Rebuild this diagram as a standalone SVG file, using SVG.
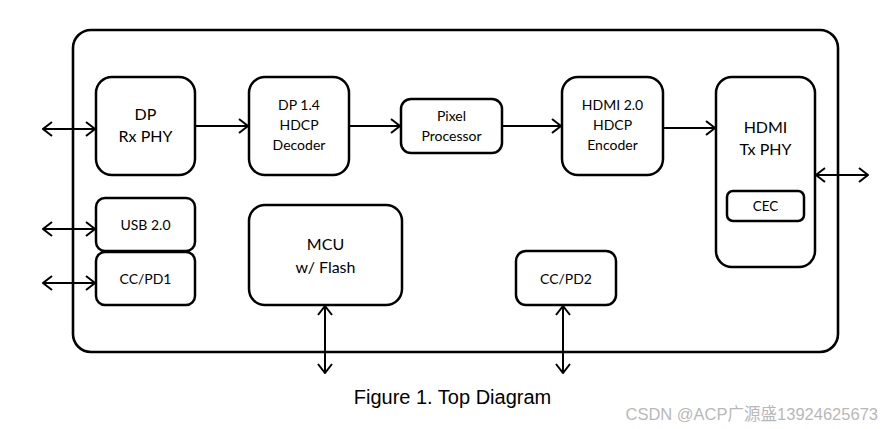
<svg xmlns="http://www.w3.org/2000/svg" width="882" height="429" viewBox="0 0 882 429">
<defs>
<style>
.box{fill:#fff;stroke:#000;stroke-width:2.5}
.outer{fill:none;stroke:#000;stroke-width:2.6}
.ln{fill:none;stroke:#000;stroke-width:2}
.t{font-family:Lato,"Open Sans",sans-serif;fill:#000;text-anchor:middle}
.l{font-size:16px}
.s{font-size:14px}
</style>
<marker id="ah" viewBox="0 0 11 16" refX="10" refY="8" markerWidth="11" markerHeight="16" markerUnits="userSpaceOnUse" orient="auto-start-reverse">
<path d="M1,1 L10,8 L1,15" fill="none" stroke="#000" stroke-width="2"/>
</marker>
</defs>
<rect id="chip" class="outer" x="73" y="30" width="765" height="322" rx="18"/>
<g id="connectors">
<line class="ln" x1="43" y1="129" x2="95" y2="129" marker-start="url(#ah)" marker-end="url(#ah)"/>
<line class="ln" x1="195" y1="126" x2="248" y2="126" marker-end="url(#ah)"/>
<line class="ln" x1="349" y1="126" x2="400" y2="126" marker-end="url(#ah)"/>
<line class="ln" x1="502" y1="126" x2="561" y2="126" marker-end="url(#ah)"/>
<line class="ln" x1="663" y1="128" x2="715" y2="128" marker-end="url(#ah)"/>
<line class="ln" x1="816" y1="175" x2="868" y2="175" marker-start="url(#ah)" marker-end="url(#ah)"/>
<line class="ln" x1="43" y1="229" x2="95" y2="229" marker-start="url(#ah)" marker-end="url(#ah)"/>
<line class="ln" x1="43" y1="283" x2="95" y2="283" marker-start="url(#ah)" marker-end="url(#ah)"/>
<line class="ln" x1="325" y1="306" x2="325" y2="373" marker-start="url(#ah)" marker-end="url(#ah)"/>
<line class="ln" x1="563" y1="306" x2="563" y2="373" marker-start="url(#ah)" marker-end="url(#ah)"/>
</g>
<g id="dp-rx">
<rect class="box" x="96" y="77" width="99" height="98" rx="16"/>
<text class="t l" x="145.5" y="120">DP</text>
<text class="t l" x="145.5" y="142">Rx PHY</text>
</g>
<g id="dp-hdcp">
<rect class="box" x="249" y="77" width="100" height="98" rx="16"/>
<text class="t s" x="299" y="110">DP 1.4</text>
<text class="t s" x="299" y="130">HDCP</text>
<text class="t s" x="299" y="150">Decoder</text>
</g>
<g id="pixel">
<rect class="box" x="401" y="99" width="101" height="54" rx="10"/>
<text class="t s" x="451.5" y="121">Pixel</text>
<text class="t s" x="451.5" y="141">Processor</text>
</g>
<g id="hdmi-hdcp">
<rect class="box" x="562" y="77" width="101" height="98" rx="16"/>
<text class="t s" x="612.5" y="110">HDMI 2.0</text>
<text class="t s" x="612.5" y="130">HDCP</text>
<text class="t s" x="612.5" y="150">Encoder</text>
</g>
<g id="hdmi-tx">
<rect class="box" x="716" y="77" width="99" height="190" rx="16"/>
<text class="t l" x="765.5" y="133">HDMI</text>
<text class="t l" x="765.5" y="155">Tx PHY</text>
</g>
<g id="cec">
<rect class="box" x="727" y="191" width="77" height="30" rx="6"/>
<text class="t" style="font-size:13.5px" x="765.5" y="211">CEC</text>
</g>
<g id="usb">
<rect class="box" x="96" y="198" width="99" height="53" rx="9"/>
<text class="t s" x="145.5" y="230">USB 2.0</text>
</g>
<g id="ccpd1">
<rect class="box" x="96" y="252" width="99" height="53" rx="9"/>
<text class="t s" x="145.5" y="284">CC/PD1</text>
</g>
<g id="mcu">
<rect class="box" x="249" y="205" width="153" height="100" rx="16"/>
<text class="t l" x="325.5" y="250">MCU</text>
<text class="t l" x="325.5" y="273">w/ Flash</text>
</g>
<g id="ccpd2">
<rect class="box" x="516" y="251" width="100" height="54" rx="10"/>
<text class="t s" x="566" y="284">CC/PD2</text>
</g>
<text x="452.5" y="404" style="font-family:'Liberation Sans',Arial,sans-serif;font-size:20px;text-anchor:middle;fill:#000">Figure 1. Top Diagram</text>
<text x="878" y="420" style="font-family:'Liberation Sans','Noto Sans CJK SC',sans-serif;font-size:16.5px;text-anchor:end;fill:#b8b8b8">CSDN @ACP广源盛13924625673</text>
</svg>
